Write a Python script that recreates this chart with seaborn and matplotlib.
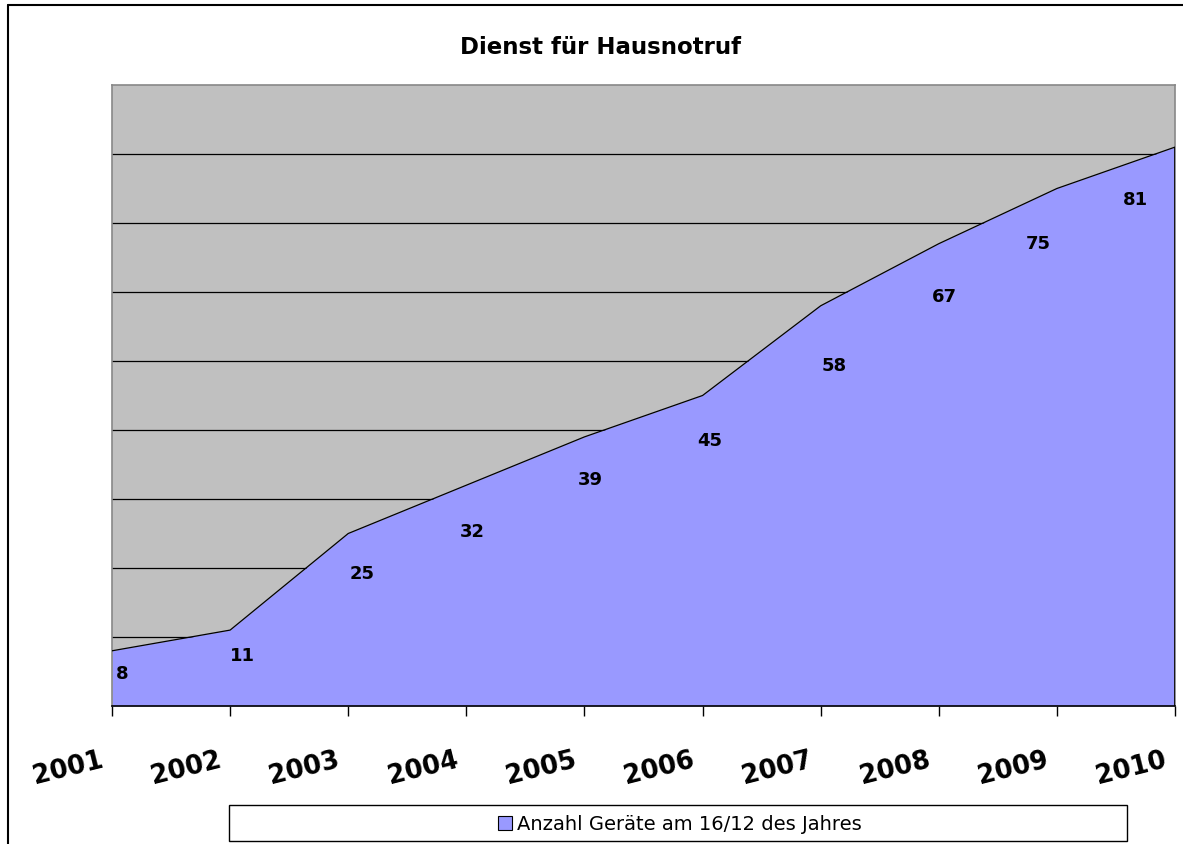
"""Dienst fuer Hausnotruf - area chart of devices per year."""

import matplotlib

matplotlib.use("Agg")

import matplotlib.pyplot as plt
import pandas as pd
import seaborn as sns
from matplotlib.lines import Line2D
from matplotlib.patches import Patch, Rectangle
from matplotlib.transforms import ScaledTranslation


TITLE = "Dienst für Hausnotruf"
SERIES_NAME = "Anzahl Geräte am 16/12 des Jahres"
YEARS = [2001, 2002, 2003, 2004, 2005, 2006, 2007, 2008, 2009, 2010]
DEVICES = [8, 11, 25, 32, 39, 45, 58, 67, 75, 81]
GRID_VALUES = [10, 20, 30, 40, 50, 60, 70, 80]
# label offsets from the data point, in pixels (dx, dy downwards)
LABEL_OFFSETS = [(10, 22), (12, 25), (14, 40), (6, 46), (6, 42),
                 (7, 45), (14, 59), (6, 52), (-19, 55), (-40, 52)]

AREA_COLOR = "#9999FF"
PLOT_BG = "#C0C0C0"
FONT = "DejaVu Sans"

W, H = 1183, 845


def main() -> None:
    sns.set_style("white")
    plt.rcParams["font.family"] = [FONT]
    plt.rcParams["text.color"] = "black"
    plt.rcParams["xtick.labelcolor"] = "black"

    df = pd.DataFrame({"year": YEARS, "devices": DEVICES})

    fig = plt.figure(figsize=(W / 100, H / 100), dpi=100)
    ax = fig.add_axes([112 / W, 1 - 707 / H, (1175 - 112) / W, (707 - 86) / H])
    ax.set_facecolor(PLOT_BG)

    for v in GRID_VALUES:
        ax.axhline(v, color="black", lw=0.9, zorder=1)

    ax.fill_between(df["year"], df["devices"], 0, color=AREA_COLOR, lw=0, zorder=2)
    sns.lineplot(data=df, x="year", y="devices", color="black", lw=0.9, ax=ax, zorder=3)
    ax.vlines(YEARS[-1], 0, DEVICES[-1], color="black", lw=1.2, zorder=3)

    ax.set_xlim(YEARS[0], YEARS[-1])
    ax.set_ylim(0, 90)
    ax.set_xlabel("")
    ax.set_ylabel("")
    ax.set_yticks([])
    ax.set_xticks(YEARS)
    ax.set_xticklabels([str(y) for y in YEARS], fontsize=18.5, fontweight="bold",
                       rotation=14, ha="right", rotation_mode="anchor", color="black")
    ax.tick_params(axis="x", direction="out", length=7, width=1, color="black",
                   pad=22, bottom=True)
    shift = ScaledTranslation(-12 / 100, 0, fig.dpi_scale_trans)
    for label in ax.get_xticklabels():
        label.set_transform(label.get_transform() + shift)

    for side in ("left", "top", "right"):
        ax.spines[side].set_color("#888888")
        ax.spines[side].set_linewidth(1.2)
    ax.spines["bottom"].set_color("black")
    ax.spines["bottom"].set_linewidth(1.2)
    ax.spines["bottom"].set_zorder(4)

    for year, value, (dx, dy) in zip(YEARS, DEVICES, LABEL_OFFSETS):
        ax.annotate(str(value), (year, value), xytext=(dx * 0.72, -dy * 0.72),
                    textcoords="offset points", ha="center", va="center",
                    fontsize=13, fontweight="bold", color="black", zorder=5)

    fig.text(600 / W, 1 - 47 / H, TITLE, ha="center", va="center",
             fontsize=16.5, fontweight="bold", color="black")

    # outer chart frame (runs off the right and bottom edges)
    fig.add_artist(Line2D([8 / W, 8 / W], [1 - 6 / H, 0], color="black", lw=1.5))
    fig.add_artist(Line2D([8 / W, 1], [1 - 6 / H, 1 - 6 / H], color="black", lw=1.5))

    # legend box
    fig.add_artist(Rectangle((229 / W, 1 - 842 / H), (1127 - 229) / W, 36 / H,
                             transform=fig.transFigure, facecolor="white",
                             edgecolor="black", lw=1.0))
    handle = Patch(facecolor=AREA_COLOR, edgecolor="black", lw=0.8)
    fig.legend([handle], [SERIES_NAME], loc="center",
               bbox_to_anchor=(680 / W, 1 - 825 / H), frameon=False,
               fontsize=14, handlelength=0.7, handleheight=0.7, handletextpad=0.3,
               borderpad=0, labelcolor="black")

    fig.savefig("out.png", dpi=100)
    plt.close(fig)


if __name__ == "__main__":
    main()
